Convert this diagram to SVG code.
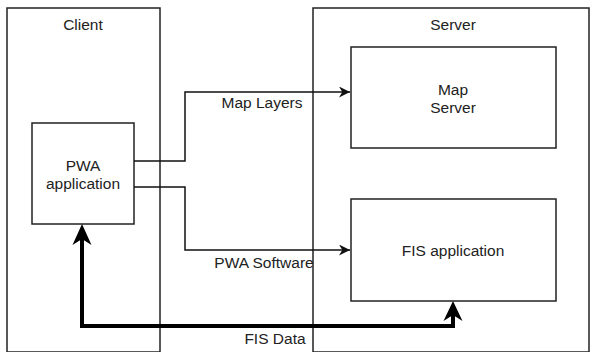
<svg xmlns="http://www.w3.org/2000/svg" width="590" height="352" viewBox="0 0 590 352">
<style>
.box{fill:none;stroke:#222;stroke-width:1.5}
.t{font-family:"Liberation Sans",Arial,sans-serif;font-size:15.5px;fill:#222;text-anchor:middle}
.c{fill:none;stroke:#111;stroke-width:1.5}
.ck{fill:none;stroke:#000;stroke-width:4}
.ah{fill:#000}
</style>
<defs>
<marker id="a" viewBox="0 0 10 10" refX="10" refY="5" markerWidth="11" markerHeight="11" markerUnits="userSpaceOnUse" orient="auto"><path d="M0,0 L10,5 L0,10 L3,5 Z" fill="#111"/></marker>
</defs>
<rect width="590" height="352" fill="#fff"/>
<g id="client"><rect class="box" x="7" y="8" width="153" height="344"/><text class="t" x="83" y="30">Client</text></g>
<g id="server"><rect class="box" x="313" y="8" width="276" height="344"/><text class="t" x="453" y="30">Server</text></g>
<g id="pwa"><rect class="box" x="32" y="123" width="102" height="101"/><text class="t" x="83" y="171">PWA</text><text class="t" x="83" y="189">application</text></g>
<g id="mapserver"><rect class="box" x="351" y="47" width="205" height="101"/><text class="t" x="453" y="95">Map</text><text class="t" x="453" y="113">Server</text></g>
<g id="fis"><rect class="box" x="351" y="199" width="205" height="102"/><text class="t" x="453" y="256">FIS application</text></g>
<g id="connectors">
<path class="c" d="M134,161 H185 V92 H350" marker-end="url(#a)"/>
<path class="c" d="M134,187 H185 V250 H350" marker-end="url(#a)"/>
<path class="ck" d="M453,312 V326 H82 V236"/>
<path class="ah" d="M82,224 L91.5,245 L82,239 L72.5,245 Z"/>
<path class="ah" d="M453,301 L462.5,321 L453,315 L443.5,321 Z"/>
<text class="t" x="262" y="108">Map Layers</text>
<text class="t" x="264" y="268">PWA Software</text>
<text class="t" x="275" y="344">FIS Data</text>
</g>
</svg>
